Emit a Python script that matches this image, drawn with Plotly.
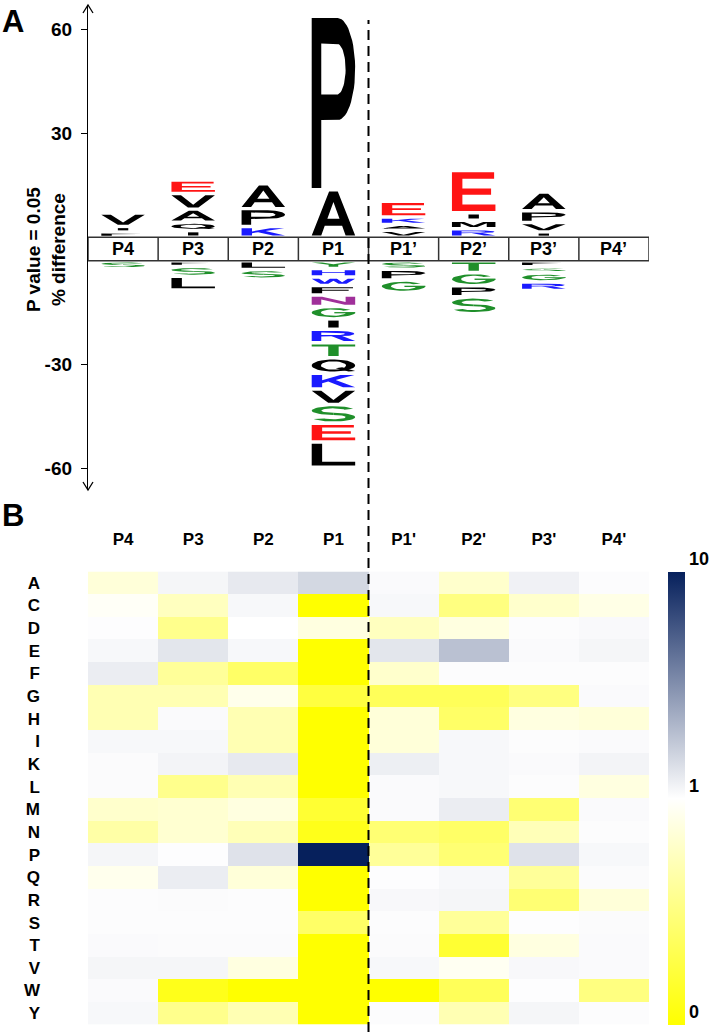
import numpy as np
import plotly.graph_objects as go

# ---------------- data ----------------
positions = ["P4", "P3", "P2", "P1", "P1’", "P2’", "P3’", "P4’"]
heat_positions = ["P4", "P3", "P2", "P1", "P1'", "P2'", "P3'", "P4'"]

# iceLogo: enriched residues (stacked bottom -> top), % difference
above_letters = [["F", "I", "V"], ["I", "Q", "A", "V", "E"], ["K", "P", "A"], ["A", "P"],
                 ["V", "A", "K", "E"], ["R", "M", "I", "E"], ["I", "V", "P", "A"], []]
above_values = [[1.5, 1.6, 3.9], [1.9, 2.45, 3.75, 4.5, 3.9], [3.1, 5.15, 7.2], [13.7, 50.0],
                [2.0, 1.7, 2.15, 4.5], [2.45, 2.45, 2.15, 12.2], [1.5, 2.75, 3.4, 5.4], []]
# depleted residues (stacked top -> bottom), |% difference|
below_letters = [["S"], ["F", "S", "L"], ["L", "S"],
                 ["Y", "H", "W", "F", "N", "G", "I", "R", "T", "Q", "K", "V", "S", "E", "L"],
                 ["S", "P", "G"], ["T", "G", "P", "S"], ["F", "S", "G", "R"], []]
below_values = [[2.3], [1.6, 2.9, 3.9], [2.5, 2.8],
                 [2.2, 2.45, 2.45, 2.75, 3.3, 3.6, 3.0, 3.9, 4.3, 4.5, 4.5, 4.5, 5.4, 5.4, 7.3],
                 [2.45, 3.1, 3.6], [3.4, 3.8, 3.2, 4.9], [1.7, 1.8, 2.6, 2.5], []]

y_ticks = [60, 30, -30, -60]

amino_acids = ["A", "C", "D", "E", "F", "G", "H", "I", "K", "L",
               "M", "N", "P", "Q", "R", "S", "T", "V", "W", "Y"]
# fold change (sample / reference) per residue, columns P4..P4'
fold_change = [
    [0.85, 1.10, 1.25, 1.50, 1.05, 0.80, 1.15, 1.03],  # A
    [0.97, 0.75, 1.08, 0.00, 1.08, 0.50, 0.80, 0.90],  # C
    [1.02, 0.55, 1.00, 0.88, 0.75, 0.88, 1.03, 1.06],  # D
    [1.08, 1.30, 1.08, 0.00, 1.30, 1.90, 1.05, 1.10],  # E
    [1.20, 0.60, 0.40, 0.00, 0.80, 1.03, 1.03, 1.03],  # F
    [0.70, 0.70, 0.92, 0.25, 0.35, 0.35, 0.50, 1.05],  # G
    [0.70, 1.05, 0.70, 0.00, 0.85, 0.40, 0.88, 0.85],  # H
    [1.08, 1.08, 0.70, 0.00, 0.85, 1.08, 1.03, 1.05],  # I
    [1.04, 1.12, 1.25, 0.00, 1.18, 1.08, 1.05, 1.12],  # K
    [1.04, 0.55, 0.70, 0.00, 1.05, 1.08, 1.03, 0.88],  # L
    [0.80, 0.82, 0.88, 0.20, 1.05, 1.20, 0.45, 1.05],  # M
    [0.65, 0.82, 0.72, 0.10, 0.45, 0.40, 0.72, 1.03],  # N
    [1.10, 1.02, 1.35, 10.0, 0.60, 0.45, 1.35, 1.08],  # P
    [0.93, 1.20, 0.85, 0.00, 1.02, 1.08, 0.60, 1.04],  # Q
    [1.03, 1.04, 1.03, 0.00, 1.07, 1.10, 0.45, 0.85],  # R
    [1.03, 1.03, 1.03, 0.40, 1.03, 0.60, 1.02, 1.04],  # S
    [1.05, 1.04, 1.04, 0.00, 1.04, 0.20, 0.88, 1.05],  # T
    [1.10, 1.10, 0.88, 0.00, 1.08, 0.95, 1.07, 1.05],  # V
    [1.05, 0.10, 0.00, 0.00, 0.00, 0.35, 1.02, 0.50],  # W
    [1.08, 0.55, 0.70, 0.00, 1.03, 0.70, 1.10, 1.03],  # Y
]
colorbar_ticks = [0, 1, 10]

# ---------------- styles ----------------
W, H = 720, 1032
FONT = "Liberation Sans, Arial, sans-serif"
letter_colors = {"E": "#ff1414", "D": "#ff1414", "K": "#1a1aff", "R": "#1a1aff", "H": "#1a1aff",
                 "W": "#1a1aff", "S": "#1f8f2a", "T": "#1f8f2a", "G": "#1f8f2a", "Y": "#1f8f2a",
                 "C": "#1f8f2a", "N": "#a0309a"}
BAND = 3.4          # half height of the position band (display units)
PX_PER_UNIT = 3.467
CENTER_PX = 249


# ---------------- glyph outlines (unit box) ----------------
def arc(cx, cy, rx, ry, a0, a1, n=30):
    a = np.radians(np.linspace(a0, a1, n))
    return list(zip(cx + rx * np.cos(a), cy + ry * np.sin(a)))


def area(p):
    s = 0.0
    for (x0, y0), (x1, y1) in zip(p, p[1:] + p[:1]):
        s += x0 * y1 - x1 * y0
    return s / 2


def holed(outer, inner):
    if (area(outer) > 0) == (area(inner) > 0):
        inner = inner[::-1]
    return outer + [outer[0]] + inner + [inner[0]]


def band(cx, cy, rx, ry, tx, ty, a0, a1):
    return arc(cx, cy, rx, ry, a0, a1) + arc(cx, cy, rx - tx, ry - ty, a1, a0)


GLYPHS = {
    "A": [holed([(0, 0), (0.22, 0), (0.3, 0.22), (0.7, 0.22), (0.78, 0), (1, 0), (0.6, 1), (0.4, 1)],
                [(0.36, 0.38), (0.64, 0.38), (0.5, 0.76)])],
    "P": [holed([(0, 0), (0.22, 0), (0.22, 0.4)] + arc(0.6, 0.7, 0.4, 0.3, -90, 90) + [(0, 1)],
                [(0.22, 0.55)] + arc(0.58, 0.7, 0.2, 0.15, -90, 90) + [(0.22, 0.85)])],
    "R": [holed([(0, 0), (0.22, 0), (0.22, 0.45)] + arc(0.6, 0.725, 0.38, 0.275, -90, 90) + [(0, 1)],
                [(0.22, 0.6)] + arc(0.58, 0.725, 0.18, 0.125, -90, 90) + [(0.22, 0.85)]),
          [(0.45, 0.5), (0.74, 0), (1, 0), (0.7, 0.5)]],
    "D": [holed([(0, 0), (0.45, 0)] + arc(0.45, 0.5, 0.55, 0.5, -90, 90) + [(0, 1)],
                [(0.22, 0.15), (0.45, 0.15)] + arc(0.45, 0.5, 0.33, 0.35, -90, 90) + [(0.22, 0.85)])],
    "E": [[(0, 0), (1, 0), (1, 0.17), (0.24, 0.17), (0.24, 0.42), (0.9, 0.42), (0.9, 0.58),
           (0.24, 0.58), (0.24, 0.83), (0.97, 0.83), (0.97, 1), (0, 1)]],
    "F": [[(0, 0), (0.24, 0), (0.24, 0.42), (0.85, 0.42), (0.85, 0.58), (0.24, 0.58),
           (0.24, 0.83), (0.95, 0.83), (0.95, 1), (0, 1)]],
    "L": [[(0, 0), (1, 0), (1, 0.17), (0.24, 0.17), (0.24, 1), (0, 1)]],
    "T": [[(0.38, 0), (0.62, 0), (0.62, 0.83), (1, 0.83), (1, 1), (0, 1), (0, 0.83), (0.38, 0.83)]],
    "I": [[(0.38, 0), (0.62, 0), (0.62, 1), (0.38, 1)]],
    "H": [[(0, 0), (0.24, 0), (0.24, 0.42), (0.76, 0.42), (0.76, 0), (1, 0), (1, 1), (0.76, 1),
           (0.76, 0.58), (0.24, 0.58), (0.24, 1), (0, 1)]],
    "K": [[(0, 0), (0.24, 0), (0.24, 0.32), (0.38, 0.46), (0.72, 0), (1, 0), (0.55, 0.6),
           (0.98, 1), (0.66, 1), (0.24, 0.56), (0.24, 1), (0, 1)]],
    "M": [[(0, 0), (0.2, 0), (0.2, 0.72), (0.42, 0), (0.58, 0), (0.8, 0.72), (0.8, 0), (1, 0),
           (1, 1), (0.72, 1), (0.5, 0.3), (0.28, 1), (0, 1)]],
    "N": [[(0, 0), (0.22, 0), (0.22, 0.66), (0.76, 0), (1, 0), (1, 1), (0.78, 1), (0.78, 0.34),
           (0.24, 1), (0, 1)]],
    "V": [[(0, 1), (0.22, 1), (0.5, 0.22), (0.78, 1), (1, 1), (0.62, 0), (0.38, 0)]],
    "Y": [[(0, 1), (0.24, 1), (0.5, 0.6), (0.76, 1), (1, 1), (0.61, 0.45), (0.61, 0),
           (0.39, 0), (0.39, 0.45)]],
    "W": [[(0, 1), (0.17, 1), (0.3, 0.3), (0.42, 1), (0.58, 1), (0.7, 0.3), (0.83, 1), (1, 1),
           (0.8, 0), (0.62, 0), (0.5, 0.6), (0.38, 0), (0.2, 0)]],
    "S": [band(0.5, 0.715, 0.5, 0.285, 0.22, 0.14, 25, 270),
          band(0.5, 0.285, 0.5, 0.285, 0.22, 0.14, 90, -155)],
    "G": [band(0.5, 0.5, 0.5, 0.5, 0.21, 0.15, 38, 360),
          [(0.52, 0.42), (1, 0.42), (1, 0.56), (0.52, 0.56)]],
    "C": [band(0.5, 0.5, 0.5, 0.5, 0.21, 0.15, 40, 320)],
    "Q": [band(0.5, 0.5, 0.5, 0.5, 0.21, 0.15, 0, 360),
          [(0.55, 0.28), (0.7, 0.36), (1.0, 0.05), (0.85, 0.0)]],
}

fig = go.Figure()

LETTER_W = 0.62


def add_letter(letter, xc, lo, hgt):
    pad = min(0.5, 0.3 * hgt)
    y0, hh = lo + pad, hgt - 2 * pad
    color = letter_colors.get(letter, "#000000")
    for poly in GLYPHS[letter]:
        xs = [xc - LETTER_W / 2 + px * LETTER_W for px, py in poly]
        ys = [y0 + py * hh for px, py in poly]
        fig.add_trace(go.Scatter(x=xs, y=ys, mode="lines", fill="toself", fillcolor=color,
                                 line=dict(width=0, color=color), hoverinfo="skip",
                                 showlegend=False, xaxis="x", yaxis="y"))


for i in range(len(positions)):
    xc = i + 0.5
    cum = BAND
    for letter, v in zip(above_letters[i], above_values[i]):
        add_letter(letter, xc, cum, v)
        cum += v
    cum = -BAND
    for letter, v in zip(below_letters[i], below_values[i]):
        add_letter(letter, xc, cum - v, v)
        cum -= v


# ---------------- heatmap ----------------
def to_scale(f):
    if f <= 1:
        return 0.5 * f
    return min(1.0, 0.5 + 0.5 * np.log10(f))


z = [[to_scale(v) for v in row] for row in fold_change]
cb_vals = [to_scale(v) for v in colorbar_ticks]

hm_top = 1 - 571.5 / H
hm_bot = 1 - 1024.5 / H
fig.add_trace(go.Heatmap(
    z=z, x=list(range(len(heat_positions))), y=amino_acids, xaxis="x2", yaxis="y2",
    zmin=0, zmax=1,
    colorscale=[[0, "#ffff00"], [0.5, "#ffffff"], [1, "#06205c"]],
    xgap=0, ygap=0, hoverinfo="skip",
    colorbar=dict(x=668 / W, xanchor="left", xref="paper", xpad=0, ypad=0, thickness=17,
                  thicknessmode="pixels", y=hm_bot, yanchor="bottom", len=hm_top - hm_bot,
                  lenmode="fraction", outlinewidth=0, ticks="", tickvals=cb_vals,
                  ticktext=[str(t) for t in colorbar_ticks], ticklabelposition="outside top",
                  tickfont=dict(family=FONT, size=18, color="black", weight="bold")),
))

x_dom = [88 / W, 649 / W]
y_top_px, y_bot_px = 5, 490
D_top = (CENTER_PX - y_top_px) / PX_PER_UNIT
D_bot = -(y_bot_px - CENTER_PX) / PX_PER_UNIT


def disp(v):
    return v + BAND if v > 0 else v - BAND


fig.update_layout(
    width=W, height=H, margin=dict(l=0, r=0, t=0, b=0),
    paper_bgcolor="white", plot_bgcolor="white", showlegend=False,
    font=dict(family=FONT, color="black"),
    xaxis=dict(domain=x_dom, range=[0, 8], anchor="y", visible=False, fixedrange=True),
    yaxis=dict(domain=[1 - y_bot_px / H, 1 - y_top_px / H], range=[D_bot, D_top], anchor="x",
               showline=True, linecolor="black", linewidth=1.3, ticks="outside", ticklen=6,
               tickcolor="black", tickwidth=1.3, tickvals=[disp(v) for v in y_ticks],
               ticktext=[str(v) for v in y_ticks], ticklabelstandoff=5,
               tickfont=dict(family=FONT, size=19, color="black", weight="bold"),
               showgrid=False, zeroline=False, fixedrange=True),
    xaxis2=dict(domain=x_dom, range=[-0.5, 7.5], anchor="y2", side="top",
                tickvals=list(range(len(heat_positions))), ticktext=heat_positions, ticks="",
                ticklabelstandoff=22, showgrid=False, zeroline=False, showline=False,
                tickfont=dict(family=FONT, size=17, color="black", weight="bold")),
    yaxis2=dict(domain=[hm_bot, hm_top], anchor="x2", autorange="reversed", ticks="",
                ticklabelstandoff=47, showgrid=False, zeroline=False, showline=False,
                tickfont=dict(family=FONT, size=17, color="black", weight="bold")),
)

# position band of the logo
shapes = [dict(type="rect", xref="x", yref="y", x0=0, x1=8, y0=-BAND, y1=BAND,
               line=dict(color="#333333", width=1.5), fillcolor="rgba(0,0,0,0)")]
for k in range(1, 8):
    shapes.append(dict(type="line", xref="x", yref="y", x0=k, x1=k, y0=-BAND, y1=BAND,
                       line=dict(color="#333333", width=1.5)))
# arrowheads on the y axis
ax_x = x_dom[0]
for yp, d in [(y_top_px, 1), (y_bot_px, -1)]:
    yy = 1 - yp / H
    shapes.append(dict(type="path", xref="paper", yref="paper",
                       path=f"M {ax_x - 5 / W},{yy - d * 8 / H} L {ax_x},{yy} L {ax_x + 5 / W},{yy - d * 8 / H}",
                       line=dict(color="black", width=1.3)))
# cleavage-site dashed line
shapes.append(dict(type="line", xref="x", yref="paper", x0=4, x1=4, y0=0, y1=1 - 20 / H,
                   line=dict(color="black", width=2, dash="10px,6px")))
fig.update_layout(shapes=shapes)

annotations = []
for i, p in enumerate(positions):
    annotations.append(dict(x=i + 0.5, y=0, xref="x", yref="y", text=p, showarrow=False,
                            font=dict(family=FONT, size=18, color="black", weight="bold")))
annotations.append(dict(x=46 / W, y=1 - 250 / H, xref="paper", yref="paper", textangle=-90,
                        xanchor="center", yanchor="middle",
                        text="P value = 0.05<br>% difference", showarrow=False,
                        font=dict(family=FONT, size=19, color="black", weight="bold")))
annotations.append(dict(x=0, y=1 - 2 / H, xref="paper", yref="paper", xanchor="left", yanchor="top",
                        text="A", showarrow=False,
                        font=dict(family=FONT, size=31, color="black", weight="bold")))
annotations.append(dict(x=0, y=1 - 496 / H, xref="paper", yref="paper", xanchor="left", yanchor="top",
                        text="B", showarrow=False,
                        font=dict(family=FONT, size=31, color="black", weight="bold")))
fig.update_layout(annotations=annotations)

fig.write_html("out.html", config={"displayModeBar": False},
               post_script="document.body.style.margin='0px';")
